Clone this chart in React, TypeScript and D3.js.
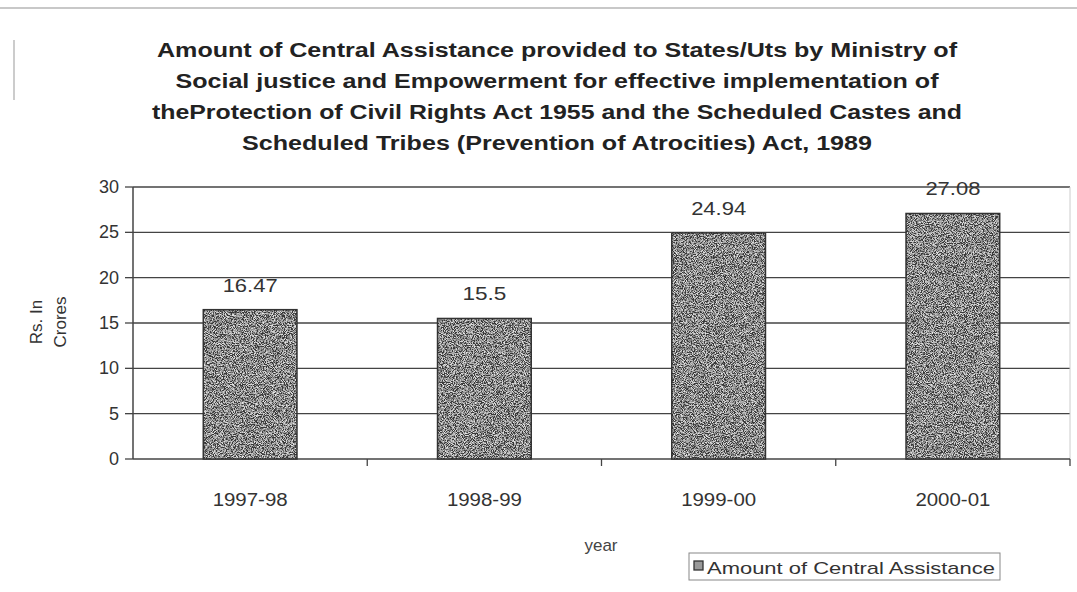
import React from "react";
import * as d3 from "d3";

const categories = ["1997-98", "1998-99", "1999-00", "2000-01"];
const values = [16.47, 15.5, 24.94, 27.08];
const valueLabels = ["16.47", "15.5", "24.94", "27.08"];
const yTicks = [0, 5, 10, 15, 20, 25, 30];
const titleLines = [
  "Amount of Central Assistance provided to States/Uts by Ministry of",
  "Social justice and Empowerment for effective implementation of",
  "theProtection of Civil Rights Act 1955 and the Scheduled Castes and",
  "Scheduled Tribes (Prevention of Atrocities) Act, 1989",
];
const titleWidths = [800, 763, 810, 630];
const seriesName = "Amount of Central Assistance";

export default function App() {
  const W = 1077, H = 592;
  const left = 133, right = 1070, top = 187, bottom = 459;
  const x = d3.scaleBand().domain(categories).range([left, right]).paddingInner(0.6).paddingOuter(0.3);
  const y = d3.scaleLinear().domain([0, 30]).range([bottom, top]);
  const font = "Arial, 'Liberation Sans', sans-serif";
  const band = (right - left) / categories.length;
  return (
    <svg width={W} height={H} style={{ position: "absolute", left: 0, top: 0, background: "#fff" }}>
      <defs>
        <filter id="noise" x="0" y="0" width="100%" height="100%">
          <feTurbulence type="fractalNoise" baseFrequency="1.1" numOctaves="2" seed="7" result="t" />
          <feColorMatrix type="matrix" values="3 0 0 0 -1.2  3 0 0 0 -1.2  3 0 0 0 -1.2  0 0 0 0 0.75" in="t" result="n" />
          <feComposite in="n" in2="SourceGraphic" operator="in" result="nc" />
          <feMerge>
            <feMergeNode in="SourceGraphic" />
            <feMergeNode in="nc" />
          </feMerge>
        </filter>
      </defs>
      <rect width={W} height={H} fill="#fff" />
      <line x1={0} x2={W} y1={8} y2={8} stroke="#c8c8c8" strokeWidth={2} />
      <line x1={14} x2={14} y1={40} y2={100} stroke="#bbb" strokeWidth={1.5} />
      {titleLines.map((t, i) => (
        <text key={i} x={557} y={57 + i * 31} textAnchor="middle" fontFamily={font} fontWeight="bold" fontSize={20} fill="#222" textLength={titleWidths[i]} lengthAdjust="spacingAndGlyphs">{t}</text>
      ))}
      {yTicks.map((t) => (
        <g key={t}>
          {t > 0 && <line x1={left} x2={right} y1={y(t)} y2={y(t)} stroke="#444" strokeWidth={1.3} />}
          <line x1={left - 8} x2={left} y1={y(t)} y2={y(t)} stroke="#444" strokeWidth={1.3} />
          <text x={left - 14} y={y(t) + 6} textAnchor="end" fontFamily={font} fontSize={18} fill="#333">{t}</text>
        </g>
      ))}
      <line x1={left} x2={left} y1={top} y2={bottom} stroke="#444" strokeWidth={1.5} />
      <line x1={right} x2={right} y1={top} y2={bottom} stroke="#ccc" strokeWidth={1} />
      <line x1={left} x2={right} y1={bottom} y2={bottom} stroke="#444" strokeWidth={1.5} />
      {categories.map((c, i) => (
        <line key={c} x1={left + band * (i + 1)} x2={left + band * (i + 1)} y1={bottom} y2={bottom + 7} stroke="#444" strokeWidth={1.3} />
      ))}
      {categories.map((c, i) => (
        <g key={c}>
          <rect x={x(c)!} y={y(values[i])} width={x.bandwidth()} height={bottom - y(values[i])} fill="#707070" stroke="#333" strokeWidth={1.5} filter="url(#noise)" />
          <rect x={x(c)!} y={y(values[i])} width={x.bandwidth()} height={bottom - y(values[i])} fill="none" stroke="#333" strokeWidth={1.5} />
          <text x={x(c)! + x.bandwidth() / 2} y={y(values[i]) - 18} textAnchor="middle" fontFamily={font} fontSize={19} fill="#333" textLength={valueLabels[i].length * 11} lengthAdjust="spacingAndGlyphs">{valueLabels[i]}</text>
          <text x={x(c)! + x.bandwidth() / 2} y={506} textAnchor="middle" fontFamily={font} fontSize={18} fill="#333" textLength={75} lengthAdjust="spacingAndGlyphs">{c}</text>
        </g>
      ))}
      <text x={601} y={551} textAnchor="middle" fontFamily={font} fontSize={17} fill="#444">year</text>
      <g transform="translate(42,322) rotate(-90)">
        <text x={0} y={0} textAnchor="middle" fontFamily={font} fontSize={17} fill="#333">Rs. In</text>
        <text x={0} y={24} textAnchor="middle" fontFamily={font} fontSize={17} fill="#333">Crores</text>
      </g>
      <rect x={689} y={553} width={311} height={27} fill="#fff" stroke="#888" strokeWidth={1} />
      <rect x={694} y={561} width={9} height={9} fill="#999" stroke="#333" strokeWidth={1.3} />
      <text x={707} y={574} fontFamily={font} fontSize={17} fill="#333" textLength={288} lengthAdjust="spacingAndGlyphs">{seriesName}</text>
    </svg>
  );
}
